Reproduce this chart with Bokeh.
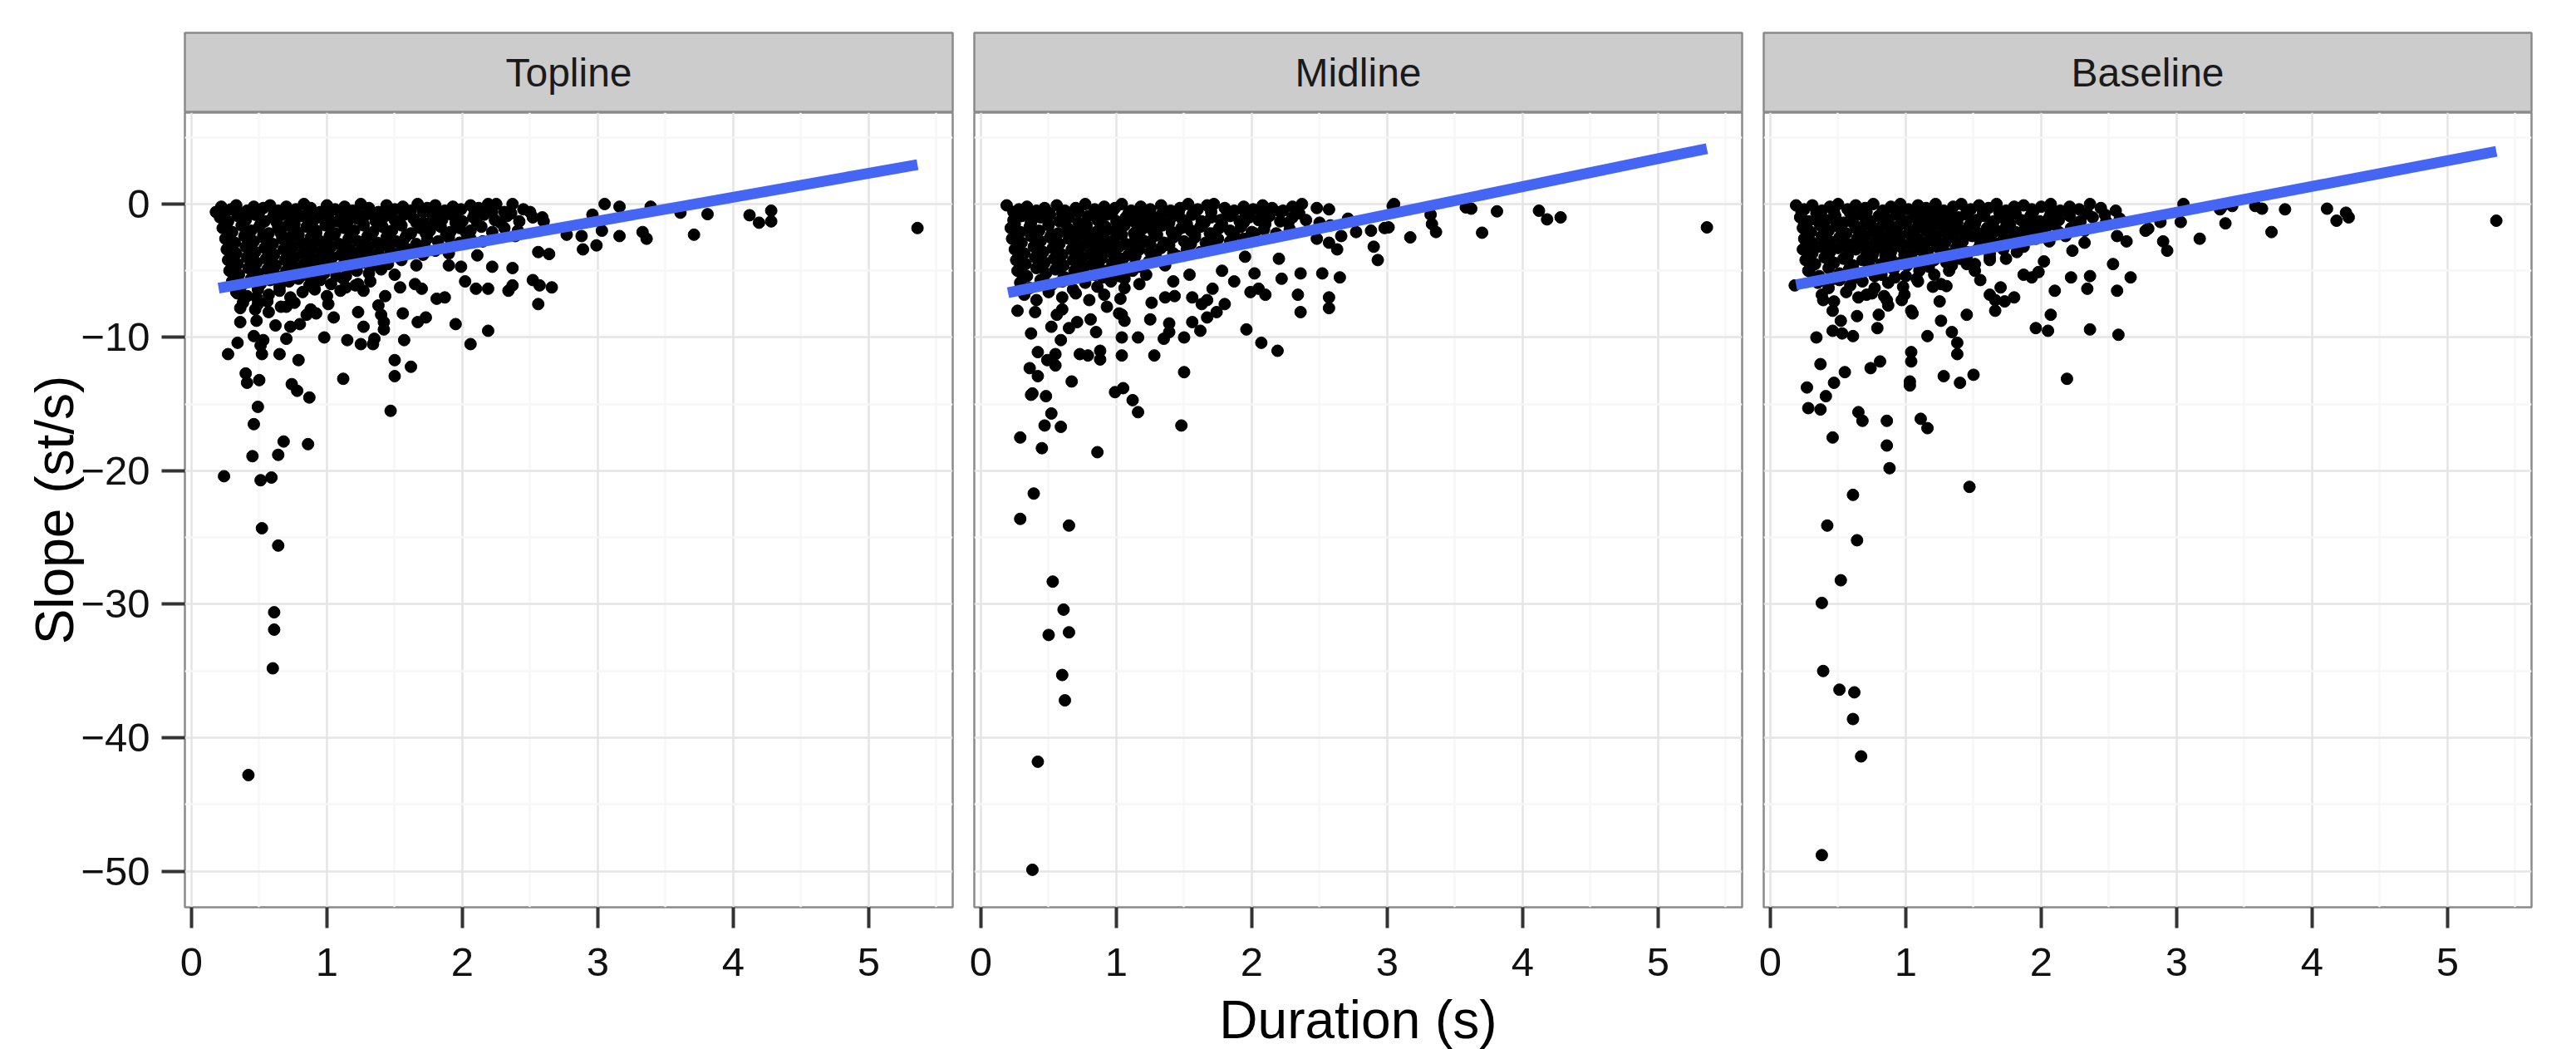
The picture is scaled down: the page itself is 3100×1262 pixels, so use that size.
from bokeh.plotting import figure
from bokeh.layouts import row, column
from bokeh.models import Range1d, FixedTicker
from bokeh.core.properties import value
from bokeh.embed import file_html
from bokeh.resources import INLINE

# ---------------- data ----------------
panel_names = ["Topline", "Midline", "Baseline"]
x_ticks = [0, 1, 2, 3, 4, 5]
x_minor = [0.5, 1.5, 2.5, 3.5, 4.5, 5.5]
y_ticks = [-50, -40, -30, -20, -10, 0]
y_minor = [-45, -35, -25, -15, -5, 5]
y_tick_labels = {-50: "\u221250", -40: "\u221240", -30: "\u221230",
                 -20: "\u221220", -10: "\u221210", 0: "0"}
x_label = "Duration (s)"
y_label = "Slope (st/s)"

topline_fit_x = [0.20, 5.36]
topline_fit_y = [-6.3, 2.95]
midline_fit_x = [0.20, 5.36]
midline_fit_y = [-6.65, 4.15]
baseline_fit_x = [0.19, 5.36]
baseline_fit_y = [-6.05, 3.95]

topline_pts = [
    # dense band
    (0.19,-0.6),(0.22,-0.2),(0.29,-0.4),(0.33,-0.1),(0.41,-0.5),(0.46,-0.2),(0.53,-0.3),(0.58,-0.1),(0.64,-0.5),(0.70,-0.2),
    (0.77,-0.4),(0.83,0.0),(0.88,-0.3),(0.95,-0.6),(1.00,-0.1),(1.06,-0.4),(1.13,-0.2),(1.19,-0.5),(1.25,0.0),(1.31,-0.3),
    (1.38,-0.6),(1.44,-0.1),(1.50,-0.4),(1.56,-0.2),(1.62,-0.5),(1.67,0.0),(1.74,-0.3),(1.80,-0.1),(1.87,-0.5),(1.93,-0.2),
    (1.99,-0.4),(2.06,-0.1),(2.12,-0.3),(2.19,0.0),(2.31,-0.6),(2.45,-0.4),
    (0.21,-1.0),(0.27,-1.3),(0.34,-0.9),(0.40,-1.2),(0.47,-0.8),(0.54,-1.3),(0.60,-1.0),(0.67,-0.8),(0.74,-1.2),(0.81,-0.9),
    (0.87,-1.4),(0.94,-1.0),(1.01,-0.8),(1.08,-1.3),(1.15,-0.9),(1.22,-1.1),(1.29,-0.8),(1.36,-1.3),(1.43,-0.9),(1.50,-1.2),
    (1.57,-0.8),(1.64,-1.1),(1.71,-1.4),(1.78,-0.9),(1.85,-1.2),(1.92,-0.8),(2.00,-1.3),(2.08,-1.0),(2.16,-0.8),(2.24,-1.2),
    (2.33,-0.9),(2.42,-1.3),(2.52,-1.0),(2.60,-1.3),
    (0.23,-1.8),(0.30,-2.1),(0.37,-1.6),(0.44,-2.0),(0.50,-1.7),(0.57,-2.2),(0.64,-1.8),(0.71,-1.6),(0.78,-2.1),(0.85,-1.7),
    (0.92,-2.0),(0.99,-1.6),(1.06,-2.2),(1.13,-1.8),(1.20,-2.0),(1.27,-1.6),(1.34,-2.1),(1.41,-1.7),(1.48,-2.0),(1.55,-1.6),
    (1.62,-2.2),(1.69,-1.8),(1.76,-2.0),(1.84,-1.7),(1.91,-2.1),(1.98,-1.8),(2.06,-2.0),(2.14,-1.7),(2.22,-2.1),(2.31,-1.8),
    (2.41,-2.0),
    (0.25,-2.6),(0.32,-2.9),(0.39,-2.4),(0.46,-2.8),(0.53,-2.5),(0.60,-3.0),(0.67,-2.6),(0.74,-2.4),(0.81,-2.9),(0.88,-2.5),
    (0.95,-2.8),(1.02,-2.4),(1.09,-3.0),(1.16,-2.6),(1.23,-2.8),(1.30,-2.4),(1.37,-2.9),(1.44,-2.5),(1.51,-2.8),(1.58,-2.5),
    (1.66,-3.0),(1.74,-2.6),(1.82,-2.8),(1.90,-2.5),(1.98,-2.9),(2.06,-2.6),(2.15,-2.8),
    (0.26,-3.4),(0.33,-3.7),(0.40,-3.2),(0.47,-3.6),(0.54,-3.3),(0.61,-3.8),(0.68,-3.4),(0.75,-3.2),(0.82,-3.7),(0.89,-3.3),
    (0.96,-3.6),(1.03,-3.2),(1.10,-3.8),(1.17,-3.4),(1.24,-3.6),(1.31,-3.2),(1.38,-3.7),(1.46,-3.3),(1.54,-3.6),(1.62,-3.4),
    (1.71,-3.8),(1.80,-3.5),(1.90,-3.7),
    (0.27,-4.2),(0.34,-4.5),(0.41,-4.0),(0.48,-4.4),(0.55,-4.1),(0.62,-4.6),(0.69,-4.2),(0.76,-4.0),(0.83,-4.5),(0.90,-4.1),
    (0.97,-4.4),(1.04,-4.0),(1.12,-4.6),(1.20,-4.2),(1.28,-4.4),(1.36,-4.1),(1.45,-4.5),(1.55,-4.2),(1.66,-4.6),
    (0.28,-5.0),(0.35,-5.3),(0.42,-4.8),(0.49,-5.2),(0.56,-4.9),(0.63,-5.4),(0.70,-5.0),(0.77,-4.8),(0.84,-5.3),(0.91,-4.9),
    (0.98,-5.2),(1.06,-4.8),(1.14,-5.4),(1.22,-5.0),(1.31,-5.2),(1.40,-4.9),(1.50,-5.3),
    (0.30,-5.8),(0.37,-6.1),(0.44,-5.6),(0.51,-6.0),(0.58,-5.7),(0.65,-6.2),(0.72,-5.8),(0.79,-5.6),(0.87,-6.1),(0.95,-5.7),
    (1.03,-6.0),(1.12,-5.6),(1.21,-6.1),(1.32,-5.8),
    (0.33,-6.6),(0.41,-6.9),(0.49,-6.4),(0.57,-6.8),(0.65,-6.5),(0.73,-7.0),(0.82,-6.6),(0.91,-6.4),(1.00,-6.9),(1.10,-6.5),
    (0.38,-7.4),(0.47,-7.9),(0.56,-7.3),(0.66,-7.7),(0.76,-7.4),(0.88,-7.9),
    # in-between points of the band
    (0.25,-0.6),(0.37,-0.7),(0.50,-0.6),(0.61,-0.7),(0.73,-0.6),(0.86,-0.7),(0.98,-0.6),(1.10,-0.7),(1.22,-0.6),(1.35,-0.7),
    (1.47,-0.6),(1.59,-0.7),(1.71,-0.6),(1.83,-0.7),(1.96,-0.6),(2.09,-0.7),(2.22,-0.6),(2.36,-0.7),
    (0.26,-1.5),(0.38,-1.4),(0.51,-1.5),(0.63,-1.4),(0.76,-1.5),(0.89,-1.4),(1.02,-1.5),(1.15,-1.4),(1.27,-1.5),(1.40,-1.4),
    (1.53,-1.5),(1.66,-1.4),(1.79,-1.5),(1.95,-1.4),(2.11,-1.5),(2.28,-1.4),
    (0.27,-2.3),(0.40,-2.2),(0.53,-2.3),(0.66,-2.2),(0.79,-2.3),(0.92,-2.2),(1.05,-2.3),(1.18,-2.2),(1.31,-2.3),(1.45,-2.2),
    (1.59,-2.3),(1.73,-2.2),(1.88,-2.3),(2.03,-2.2),
    (0.29,-3.1),(0.42,-3.0),(0.56,-3.1),(0.70,-3.0),(0.84,-3.1),(0.98,-3.0),(1.12,-3.1),(1.26,-3.0),(1.40,-3.1),(1.56,-3.0),
    (1.72,-3.1),
    (0.30,-3.9),(0.44,-3.8),(0.58,-3.9),(0.72,-3.8),(0.86,-3.9),(1.00,-3.8),(1.15,-3.9),(1.30,-3.8),(1.46,-3.9),
    (0.31,-4.7),(0.45,-4.6),(0.60,-4.7),(0.74,-4.6),(0.88,-4.7),(1.02,-4.6),(1.18,-4.7),(1.34,-4.6),
    (0.33,-5.5),(0.48,-5.4),(0.62,-5.5),(0.76,-5.4),(0.91,-5.5),(1.07,-5.4),
    # scattered points
    (2.37,0.0),(2.25,0.0),(2.50,-0.6),(2.59,-1.0),(3.05,0.0),(3.16,-0.2),(2.96,-0.8),(2.77,-2.3),(2.88,-2.4),(3.03,-2.0),
    (3.16,-2.4),(3.33,-2.1),(2.89,-3.4),(2.99,-3.1),(2.56,-3.6),(2.64,-3.75),(2.39,-2.4),(2.22,-4.7),(2.37,-4.8),(1.90,-4.6),
    (1.99,-4.7),(2.11,-3.85),(2.02,-5.8),(2.10,-6.35),(2.19,-6.35),(2.34,-6.5),(2.37,-6.1),(2.52,-5.7),(2.57,-6.1),(2.66,-6.25),
    (2.56,-7.5),(1.54,-6.25),(1.65,-6.0),(1.70,-6.35),(1.81,-7.1),(1.87,-7.0),(1.95,-9.0),(2.06,-10.5),(2.19,-9.5),(1.43,-6.9),
    (1.38,-7.6),(1.40,-8.3),(1.56,-8.2),(1.67,-8.85),(1.73,-8.5),(1.42,-8.85),(1.42,-9.4),(1.57,-10.2),(1.50,-11.7),(1.62,-12.2),
    (1.50,-12.9),(1.47,-15.5),(1.12,-13.1),(1.23,-8.1),(1.27,-9.2),(1.15,-10.2),(1.25,-10.5),(1.34,-10.5),(1.35,-10.1),(0.98,-10.0),
    (0.70,-10.1),(0.65,-11.25),(0.79,-11.7),(0.52,-11.25),(0.27,-11.25),(0.34,-10.4),(0.46,-9.9),(0.53,-10.2),(0.51,-10.6),(0.40,-12.7),
    (0.41,-13.4),(0.50,-13.2),(0.74,-13.5),(0.78,-14.0),(0.87,-14.5),(0.49,-15.2),(0.46,-16.5),(0.36,-7.8),(0.36,-8.85),(0.48,-8.75),
    (0.48,-7.0),(0.49,-7.5),(0.57,-8.1),(0.62,-9.1),(0.70,-7.7),(0.73,-9.2),(0.80,-9.0),(0.85,-8.3),(0.92,-8.2),(1.01,-7.5),
    (1.05,-8.5),(1.14,-6.25),(1.27,-6.5),(1.23,-6.0),(0.34,-6.7),(0.18,-0.6),
    (3.36,-2.6),(3.71,-2.3),(3.61,-0.65),(3.81,-0.76),(4.12,-0.84),(4.19,-1.4),(4.28,-1.3),(4.28,-0.5),(5.36,-1.8),(3.39,-0.2),
    (0.45,-18.9),(0.64,-18.8),(0.68,-17.8),(0.86,-18.0),(0.24,-20.4),(0.51,-20.7),(0.59,-20.5),(0.52,-24.3),(0.64,-25.6),
    (0.61,-30.6),(0.61,-31.9),(0.60,-34.8),(0.42,-42.8),
]

midline_pts = [
    # dense band
    (0.19,-0.1),(0.28,-0.4),(0.34,-0.2),(0.41,-0.5),(0.47,-0.3),(0.56,-0.1),(0.62,-0.5),(0.70,-0.3),(0.77,0.0),(0.84,-0.4),
    (0.91,-0.2),(0.99,-0.3),(1.04,0.0),(1.11,-0.5),(1.18,-0.2),(1.25,-0.4),(1.33,-0.1),(1.40,-0.5),(1.47,-0.3),(1.53,0.0),
    (1.60,-0.4),(1.67,-0.1),(1.72,0.0),(1.80,-0.3),(1.87,-0.5),(1.94,-0.2),(2.01,-0.4),(2.08,-0.1),(2.15,-0.3),(2.23,-0.5),
    (2.30,-0.2),
    (0.24,-1.2),(0.30,-0.9),(0.37,-1.3),(0.44,-1.0),(0.51,-0.8),(0.58,-1.3),(0.65,-1.0),(0.72,-1.4),(0.79,-0.9),(0.86,-1.2),
    (0.93,-0.8),(1.00,-1.3),(1.07,-1.0),(1.14,-0.8),(1.21,-1.2),(1.28,-1.0),(1.35,-1.4),(1.42,-0.9),(1.49,-1.2),(1.56,-0.8),
    (1.63,-1.3),(1.70,-1.0),(1.77,-1.2),(1.84,-0.9),(1.91,-1.3),(1.98,-1.0),(2.05,-1.2),(2.13,-0.9),(2.21,-1.3),(2.30,-1.0),
    (2.40,-1.2),(2.50,-1.4),
    (0.22,-1.8),(0.29,-2.1),(0.36,-1.7),(0.43,-2.0),(0.50,-1.6),(0.57,-2.2),(0.64,-1.8),(0.71,-2.0),(0.78,-1.6),(0.85,-2.1),
    (0.92,-1.7),(0.99,-2.0),(1.06,-1.6),(1.13,-2.2),(1.20,-1.8),(1.27,-2.0),(1.34,-1.6),(1.41,-2.1),(1.48,-1.8),(1.55,-2.0),
    (1.62,-1.7),(1.69,-2.2),(1.76,-1.8),(1.84,-2.0),(1.92,-1.7),(2.00,-2.1),(2.09,-1.9),(2.18,-2.2),(2.28,-1.9),
    (0.23,-2.6),(0.30,-2.9),(0.37,-2.4),(0.44,-2.8),(0.51,-2.5),(0.58,-3.0),(0.65,-2.6),(0.72,-2.4),(0.79,-2.9),(0.86,-2.5),
    (0.93,-2.8),(1.00,-2.4),(1.07,-3.0),(1.14,-2.6),(1.21,-2.8),(1.28,-2.4),(1.35,-2.9),(1.42,-2.5),(1.50,-2.8),(1.58,-2.5),
    (1.66,-2.9),(1.75,-2.6),(1.84,-2.8),(1.94,-2.6),
    (0.25,-3.4),(0.32,-3.7),(0.39,-3.2),(0.46,-3.6),(0.53,-3.3),(0.60,-3.8),(0.67,-3.4),(0.74,-3.2),(0.81,-3.7),(0.88,-3.3),
    (0.95,-3.6),(1.02,-3.2),(1.09,-3.8),(1.17,-3.4),(1.25,-3.6),(1.33,-3.3),(1.42,-3.7),(1.52,-3.4),(1.62,-3.6),
    (0.26,-4.2),(0.33,-4.5),(0.40,-4.0),(0.47,-4.4),(0.54,-4.1),(0.61,-4.6),(0.68,-4.2),(0.75,-4.0),(0.82,-4.5),(0.89,-4.1),
    (0.97,-4.4),(1.05,-4.1),(1.14,-4.5),(1.24,-4.3),(1.36,-4.6),
    (0.27,-5.0),(0.34,-5.4),(0.41,-4.8),(0.48,-5.2),(0.55,-4.9),(0.62,-5.5),(0.69,-5.0),(0.76,-4.8),(0.84,-5.3),(0.93,-5.0),
    (1.02,-5.4),(1.12,-5.0),(1.22,-5.3),
    (0.29,-5.9),(0.36,-6.3),(0.44,-5.7),(0.52,-6.1),(0.60,-5.8),(0.68,-6.4),(0.77,-5.9),(0.86,-6.2),(0.96,-5.8),(1.06,-6.3),
    (1.17,-6.0),
    (0.32,-6.8),(0.41,-7.2),(0.50,-6.6),(0.60,-7.0),(0.70,-6.7),(0.80,-7.2),(0.91,-6.8),(1.03,-7.1),
    # in-between points of the band
    (0.24,-0.6),(0.36,-0.7),(0.49,-0.6),(0.60,-0.7),(0.72,-0.6),(0.85,-0.7),(0.97,-0.6),(1.09,-0.7),(1.21,-0.6),(1.34,-0.7),
    (1.46,-0.6),(1.58,-0.7),(1.70,-0.6),(1.82,-0.7),(1.95,-0.6),(2.08,-0.7),(2.21,-0.6),(2.35,-0.7),
    (0.25,-1.5),(0.37,-1.4),(0.50,-1.5),(0.62,-1.4),(0.75,-1.5),(0.88,-1.4),(1.01,-1.5),(1.14,-1.4),(1.26,-1.5),(1.39,-1.4),
    (1.52,-1.5),(1.65,-1.4),(1.78,-1.5),(1.94,-1.4),(2.10,-1.5),(2.27,-1.4),
    (0.26,-2.3),(0.39,-2.2),(0.52,-2.3),(0.65,-2.2),(0.78,-2.3),(0.91,-2.2),(1.04,-2.3),(1.17,-2.2),(1.30,-2.3),(1.44,-2.2),
    (1.58,-2.3),(1.72,-2.2),(1.87,-2.3),(2.02,-2.2),
    (0.28,-3.1),(0.41,-3.0),(0.55,-3.1),(0.69,-3.0),(0.83,-3.1),(0.97,-3.0),(1.11,-3.1),(1.25,-3.0),(1.39,-3.1),(1.55,-3.0),
    (1.71,-3.1),
    (0.29,-3.9),(0.43,-3.8),(0.57,-3.9),(0.71,-3.8),(0.85,-3.9),(0.99,-3.8),(1.14,-3.9),(1.29,-3.8),(1.45,-3.9),
    (0.30,-4.7),(0.44,-4.6),(0.59,-4.7),(0.73,-4.6),(0.87,-4.7),(1.01,-4.6),(1.17,-4.7),
    (0.31,-5.5),(0.46,-5.6),(0.61,-5.5),(0.75,-5.4),(0.90,-5.5),(1.06,-5.6),
    # scattered points
    (2.37,0.0),(2.48,-0.3),(2.57,-0.4),(3.05,0.0),(3.32,-0.8),(3.36,-2.1),(3.17,-2.5),(2.98,-1.8),(2.88,-2.0),(2.77,-2.1),
    (2.90,-3.2),(2.93,-4.2),(2.57,-2.9),(2.63,-3.4),(2.20,-4.1),(2.22,-5.6),(2.36,-5.2),(2.52,-5.2),(2.65,-5.5),(2.34,-6.8),
    (2.36,-8.1),(2.57,-7.0),(2.57,-7.8),(1.95,-3.95),(2.02,-5.2),(1.87,-5.8),(1.78,-5.0),(1.71,-6.35),(1.67,-7.2),(1.80,-7.5),
    (1.74,-8.1),(1.67,-8.5),(1.99,-6.6),(2.05,-6.35),(2.10,-6.8),(1.96,-9.4),(2.07,-10.4),(2.19,-11.0),(1.56,-7.0),(1.63,-7.5),
    (1.56,-8.85),(1.62,-9.5),(1.54,-5.3),(1.42,-5.8),(1.43,-6.9),(1.36,-7.0),(1.26,-7.4),(1.25,-8.65),(1.39,-8.95),(1.39,-9.6),
    (1.35,-10.1),(1.50,-10.0),(1.50,-12.6),(1.28,-11.35),(1.16,-10.0),(1.04,-10.0),(1.04,-11.35),(0.88,-11.0),(0.88,-11.65),(0.73,-11.25),
    (0.79,-11.35),(0.85,-9.6),(1.04,-8.3),(1.06,-8.75),(0.99,-14.1),(1.12,-14.7),(1.16,-15.6),(1.48,-16.6),(0.67,-13.3),(0.37,-14.3),
    (0.48,-14.4),(0.52,-15.7),(0.47,-16.6),(0.36,-12.3),(0.42,-12.9),(0.42,-11.1),(0.55,-11.25),(0.55,-12.1),(0.49,-11.7),(0.37,-9.7),
    (0.59,-10.2),(0.52,-9.2),(0.65,-9.3),(0.71,-8.85),(0.81,-8.65),(0.27,-8.0),(0.40,-8.1),(0.56,-8.3),(0.60,-7.9),(0.93,-7.7),
    (1.02,-8.2),(2.58,-1.6),(2.66,-2.4),(2.71,-1.1),(2.48,-2.6),
    (5.36,-1.75),(4.28,-1.0),(4.18,-1.15),(4.12,-0.5),(3.70,-2.15),(3.62,-0.35),(3.58,-0.25),(3.81,-0.55),(3.33,-1.5),(3.04,-0.15),
    (3.01,-1.75),(0.29,-17.5),(0.45,-18.3),(0.86,-18.6),(0.39,-21.7),(0.29,-23.6),(0.65,-24.1),(0.53,-28.3),(0.61,-30.4),(0.50,-32.3),
    (0.65,-32.1),(0.60,-35.3),(0.62,-37.2),(0.42,-41.8),(0.38,-49.9),(0.59,-16.7),(0.38,-14.2),(1.05,-13.8),
]

baseline_pts = [
    # dense band
    (0.19,-0.1),(0.25,-0.4),(0.31,-0.1),(0.38,-0.5),(0.44,-0.2),(0.50,0.0),(0.57,-0.4),(0.63,-0.1),(0.70,-0.3),(0.76,0.0),
    (0.83,-0.5),(0.89,-0.2),(0.96,0.0),(1.02,-0.4),(1.09,-0.1),(1.15,-0.3),(1.22,0.0),(1.28,-0.5),(1.35,-0.2),(1.41,0.0),
    (1.48,-0.4),(1.54,-0.1),(1.61,-0.3),(1.67,0.0),(1.74,-0.5),(1.80,-0.2),(1.87,-0.1),(1.93,-0.4),(2.00,-0.2),(2.07,0.0),
    (2.14,-0.5),(2.21,-0.2),(2.28,-0.4),(2.36,0.0),(2.44,-0.3),(2.55,-0.5),
    (0.22,-1.0),(0.28,-1.3),(0.35,-0.8),(0.41,-1.2),(0.48,-0.9),(0.54,-1.4),(0.61,-1.0),(0.67,-0.8),(0.74,-1.3),(0.80,-0.9),
    (0.87,-1.2),(0.93,-0.8),(1.00,-1.3),(1.06,-1.0),(1.13,-0.8),(1.19,-1.2),(1.26,-0.9),(1.32,-1.4),(1.39,-1.0),(1.45,-0.8),
    (1.52,-1.2),(1.58,-0.9),(1.65,-1.3),(1.71,-1.0),(1.78,-0.8),(1.85,-1.2),(1.92,-0.9),(1.99,-1.3),(2.06,-1.0),(2.13,-1.2),
    (2.21,-0.9),(2.29,-1.3),(2.38,-1.0),(2.48,-1.3),(2.58,-1.1),
    (0.24,-1.8),(0.30,-2.1),(0.37,-1.6),(0.43,-2.0),(0.50,-1.7),(0.56,-2.2),(0.63,-1.8),(0.69,-1.6),(0.76,-2.1),(0.82,-1.7),
    (0.89,-2.0),(0.95,-1.6),(1.02,-2.2),(1.08,-1.8),(1.15,-2.0),(1.21,-1.6),(1.28,-2.1),(1.34,-1.7),(1.41,-2.0),(1.47,-1.6),
    (1.54,-2.2),(1.60,-1.8),(1.67,-2.0),(1.74,-1.7),(1.81,-2.1),(1.88,-1.8),(1.96,-2.0),(2.04,-1.7),(2.13,-2.1),(2.22,-1.8),
    (2.32,-2.0),
    (0.25,-2.6),(0.31,-2.9),(0.38,-2.4),(0.44,-2.8),(0.51,-2.5),(0.57,-3.0),(0.64,-2.6),(0.70,-2.4),(0.77,-2.9),(0.83,-2.5),
    (0.90,-2.8),(0.96,-2.4),(1.03,-3.0),(1.09,-2.6),(1.16,-2.8),(1.22,-2.4),(1.29,-2.9),(1.35,-2.5),(1.42,-2.8),(1.49,-2.4),
    (1.56,-3.0),(1.63,-2.6),(1.71,-2.8),(1.79,-2.5),(1.87,-2.9),(1.96,-2.6),(2.06,-2.8),
    (0.24,-3.4),(0.31,-3.7),(0.37,-3.2),(0.44,-3.6),(0.50,-3.3),(0.57,-3.8),(0.63,-3.4),(0.70,-3.2),(0.76,-3.7),(0.83,-3.3),
    (0.89,-3.6),(0.96,-3.2),(1.02,-3.8),(1.09,-3.4),(1.16,-3.6),(1.23,-3.2),(1.30,-3.7),(1.37,-3.3),(1.45,-3.6),(1.53,-3.4),
    (1.62,-3.7),(1.72,-3.4),(1.82,-3.6),
    (0.26,-4.2),(0.33,-4.5),(0.40,-4.0),(0.47,-4.4),(0.54,-4.1),(0.61,-4.6),(0.68,-4.2),(0.75,-4.0),(0.82,-4.5),(0.89,-4.1),
    (0.96,-4.4),(1.04,-4.0),(1.12,-4.5),(1.21,-4.2),(1.30,-4.4),(1.40,-4.1),(1.51,-4.5),
    (0.28,-5.0),(0.36,-5.4),(0.43,-4.8),(0.51,-5.2),(0.58,-4.9),(0.66,-5.5),(0.74,-5.0),(0.82,-5.3),(0.91,-4.9),(1.00,-5.4),
    (1.10,-5.0),(1.21,-5.3),(1.32,-5.0),
    (0.35,-5.9),(0.43,-6.3),(0.51,-5.7),(0.59,-6.1),(0.68,-5.8),(0.77,-6.3),(0.87,-5.9),(0.98,-6.2),(1.09,-5.8),(1.20,-6.2),
    (0.38,-6.8),(0.47,-7.3),(0.56,-6.6),(0.65,-7.0),(0.75,-6.7),(0.86,-7.2),(0.99,-6.8),(0.18,-6.1),
    # in-between points of the band
    (0.23,-0.6),(0.34,-0.7),(0.47,-0.6),(0.59,-0.7),(0.71,-0.6),(0.84,-0.7),(0.96,-0.6),(1.08,-0.7),(1.20,-0.6),(1.33,-0.7),
    (1.45,-0.6),(1.57,-0.7),(1.69,-0.6),(1.81,-0.7),(1.94,-0.6),(2.07,-0.7),(2.20,-0.6),(2.34,-0.7),(2.47,-0.8),
    (0.25,-1.5),(0.36,-1.4),(0.49,-1.5),(0.61,-1.4),(0.74,-1.5),(0.87,-1.4),(1.00,-1.5),(1.13,-1.4),(1.25,-1.5),(1.38,-1.4),
    (1.51,-1.5),(1.64,-1.4),(1.77,-1.5),(1.93,-1.4),(2.09,-1.5),(2.26,-1.4),
    (0.27,-2.3),(0.40,-2.2),(0.53,-2.3),(0.66,-2.2),(0.79,-2.3),(0.92,-2.2),(1.05,-2.3),(1.18,-2.2),(1.31,-2.3),(1.45,-2.2),
    (1.59,-2.3),(1.73,-2.2),(1.88,-2.3),(2.03,-2.2),(2.18,-2.4),
    (0.28,-3.1),(0.41,-3.0),(0.55,-3.1),(0.69,-3.0),(0.83,-3.1),(0.97,-3.0),(1.11,-3.1),(1.25,-3.0),(1.39,-3.1),(1.55,-3.0),
    (1.71,-3.1),(1.87,-3.2),
    (0.29,-3.9),(0.43,-3.8),(0.57,-3.9),(0.71,-3.8),(0.85,-3.9),(0.99,-3.8),(1.14,-3.9),(1.29,-3.8),(1.45,-3.9),(1.62,-4.0),
    (0.30,-4.7),(0.44,-4.6),(0.59,-4.7),(0.73,-4.6),(0.87,-4.7),(1.01,-4.6),(1.17,-4.7),(1.34,-4.6),
    (0.32,-5.5),(0.47,-5.6),(0.62,-5.5),(0.77,-5.4),(0.92,-5.5),(1.08,-5.6),
    # scattered points
    (3.05,0.0),(3.32,-0.4),(3.36,-1.45),(3.17,-2.6),(3.03,-1.35),(2.88,-1.35),(2.77,-2.0),(2.90,-2.8),(2.93,-3.5),(2.56,-2.4),
    (2.63,-2.8),(2.53,-4.5),(2.66,-5.5),(2.56,-6.5),(2.36,-5.4),(2.34,-6.35),(2.22,-5.5),(2.32,-2.9),(2.23,-3.5),(2.10,-6.5),
    (2.02,-4.3),(1.98,-5.1),(1.93,-5.5),(1.87,-5.3),(1.74,-4.1),(1.62,-4.2),(1.70,-6.25),(1.62,-6.8),(1.66,-7.2),(1.73,-7.3),
    (1.80,-7.0),(1.66,-8.0),(1.45,-8.3),(2.07,-8.3),(2.05,-9.5),(1.96,-9.3),(2.36,-9.4),(2.57,-9.8),(2.19,-13.1),(1.55,-5.7),
    (1.51,-5.0),(1.26,-6.0),(1.30,-6.15),(1.25,-7.3),(1.26,-8.75),(1.34,-9.6),(1.38,-10.4),(1.38,-11.25),(1.50,-12.8),(1.40,-13.4),
    (1.28,-12.9),(1.16,-9.9),(1.04,-8.0),(1.05,-8.2),(0.97,-7.2),(1.04,-11.1),(1.04,-11.8),(1.03,-13.3),(1.03,-13.6),(0.81,-11.8),
    (0.74,-12.3),(0.55,-12.6),(0.47,-13.4),(0.41,-14.4),(0.27,-13.75),(0.28,-15.3),(0.37,-15.4),(0.37,-12.0),(0.34,-10.0),(0.46,-9.5),
    (0.53,-9.7),(0.61,-9.9),(0.65,-15.6),(0.68,-16.25),(0.86,-16.25),(1.11,-16.1),(0.79,-9.3),(0.80,-8.3),(0.64,-8.4),(0.87,-7.6),
    (0.71,-6.8),(0.84,-6.9),(0.39,-7.2),(0.46,-8.0),(0.52,-8.75),(1.45,-4.5),
    (5.36,-1.25),(4.27,-1.0),(4.25,-0.65),(4.18,-1.25),(4.11,-0.35),(3.80,-0.4),(3.70,-2.1),(3.63,-0.35),(3.58,-0.15),(2.79,-1.85),
    (3.33,-0.25),(3.41,-0.15),(1.47,-21.2),(0.88,-19.8),(0.86,-18.1),(0.61,-21.8),(0.64,-25.2),(0.42,-24.1),(0.52,-28.2),(0.38,-29.9),
    (0.39,-35.0),(0.51,-36.4),(0.62,-36.6),(0.61,-38.6),(0.67,-41.4),(0.38,-48.8),(0.46,-17.5),(1.16,-16.8),
]

# ---------------- styling / layout ----------------
FONT = "Liberation Sans"
FW, FH = 924, 956          # panel (frame) size in px
STRIP_H = 96
TOP = 39
LEFT0 = 222
GAP = 24
RB = 2
BOTTOM = 170

panels = [
    (panel_names[0], topline_pts, topline_fit_x, topline_fit_y),
    (panel_names[1], midline_pts, midline_fit_x, midline_fit_y),
    (panel_names[2], baseline_pts, baseline_fit_x, baseline_fit_y),
]

cols = []
for i, (name, pts, fx, fy) in enumerate(panels):
    ml = LEFT0 if i == 0 else GAP
    s = figure(frame_width=FW, frame_height=STRIP_H, x_range=Range1d(0, 1), y_range=Range1d(0, 1),
               toolbar_location=None, output_backend="svg",
               x_axis_location=None, y_axis_location=None,
               min_border_left=ml, min_border_right=RB, min_border_top=TOP, min_border_bottom=0,
               background_fill_color="#CCCCCC", border_fill_color="white",
               outline_line_color="#8A8A8A", outline_line_width=2.5)
    s.grid.visible = False
    s.text(x=[0.5], y=[0.5], text=[name], text_align="center", text_baseline="middle",
           text_font=value(FONT), text_font_size="48px", text_color="#1A1A1A")

    p = figure(frame_width=FW, frame_height=FH,
               x_range=Range1d(-0.049, 5.62), y_range=Range1d(-52.71, 6.85),
               toolbar_location=None, output_backend="svg",
               y_axis_location="left" if i == 0 else None,
               min_border_left=ml, min_border_right=RB, min_border_top=0, min_border_bottom=BOTTOM,
               background_fill_color="white", border_fill_color="white",
               outline_line_color="#8A8A8A", outline_line_width=2.5)

    p.xgrid.ticker = FixedTicker(ticks=x_ticks, minor_ticks=x_minor)
    p.ygrid.ticker = FixedTicker(ticks=y_ticks, minor_ticks=y_minor)
    for g in (p.xgrid, p.ygrid):
        g.grid_line_color = "#E5E5E5"
        g.grid_line_width = 2.5
        g.minor_grid_line_color = "#F7F7F7"
        g.minor_grid_line_width = 2.5

    axes = list(p.xaxis) + (list(p.yaxis) if i == 0 else [])
    for ax in axes:
        ax.axis_line_color = None
        ax.minor_tick_line_color = None
        ax.major_tick_in = 0
        ax.major_tick_line_color = "#333333"
        ax.major_tick_line_width = 4
        ax.major_label_text_font = FONT
        ax.major_label_text_font_size = "49px"
        ax.major_label_text_color = "#111111"
        ax.axis_label_text_font = FONT
        ax.axis_label_text_font_size = "64px"
        ax.axis_label_text_font_style = "normal"
        ax.axis_label_text_color = "#000000"
    p.xaxis.ticker = FixedTicker(ticks=x_ticks)
    p.xaxis.major_tick_out = 25
    p.xaxis.major_label_standoff = 24
    p.xaxis.axis_label_standoff = 14
    if i == 1:
        p.xaxis.axis_label = x_label
    if i == 0:
        p.yaxis.ticker = FixedTicker(ticks=y_ticks)
        p.yaxis.major_label_overrides = y_tick_labels
        p.yaxis.major_tick_out = 28
        p.yaxis.major_label_standoff = 14
        p.yaxis.axis_label = y_label
        p.yaxis.axis_label_standoff = -8

    xs = [pt[0] for pt in pts]
    ys = [pt[1] for pt in pts]
    p.scatter(xs, ys, size=14, color="black")
    p.line(fx, fy, line_color="#4565F5", line_width=13)

    cols.append(column(s, p, spacing=0))

layout = row(*cols, spacing=0)
open("out.html", "w").write(file_html(layout, INLINE))
